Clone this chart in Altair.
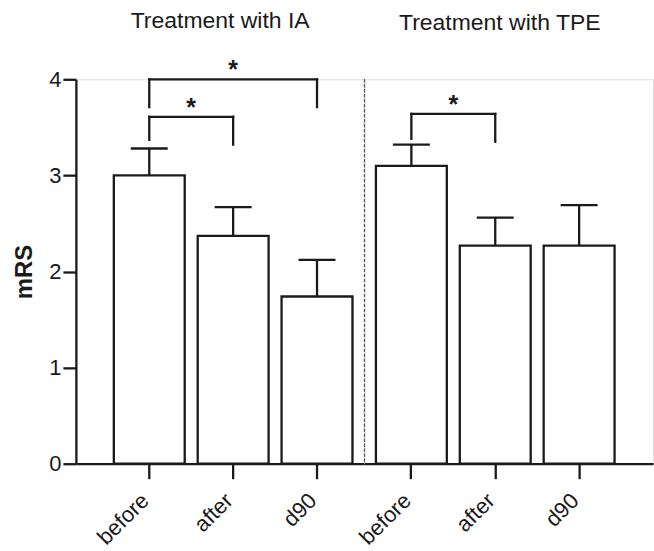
import altair as alt
import pandas as pd

# ---------------- data ----------------
timepoints = ["before", "after", "d90"]
group_titles = ["Treatment with IA", "Treatment with TPE"]

ia_mean = [3.00, 2.37, 1.74]
ia_upper = [3.28, 2.67, 2.12]
tpe_mean = [3.10, 2.27, 2.27]
tpe_upper = [3.32, 2.56, 2.69]

y_ticks = [0, 1, 2, 3, 4]

# significance brackets (start bar, end bar, top of bracket, foot at start, foot at end)
ia_br_start = ["before", "before"]
ia_br_end = ["d90", "after"]
ia_br_top = [4.00, 3.61]
ia_br_low_start = [3.71, 3.37]
ia_br_low_end = [3.71, 3.32]

tpe_br_start = ["before"]
tpe_br_end = ["after"]
tpe_br_top = [3.64]
tpe_br_low_start = [3.38]
tpe_br_low_end = [3.35]

# ---------------- style ----------------
FONT = "Liberation Sans"
INK = "#1a1a1a"
LW = 2.3
PANEL_W = 289
PANEL_H = 385
STEP = 84


def panel(title, means, uppers, b_start, b_end, b_top, b_ls, b_le,
          align, show_y, title_dx, title_offset, separator):
    df = pd.DataFrame({"t": timepoints, "mean": means, "upper": uppers})
    br = pd.DataFrame({"s": b_start, "e": b_end, "top": b_top,
                       "ls": b_ls, "le": b_le})

    xscale = alt.Scale(domain=timepoints, paddingInner=13 / 84,
                       paddingOuter=0.2976, align=align)
    yscale = alt.Scale(domain=[0, 4], nice=False, zero=True)

    xaxis = alt.Axis(title=None, labelAngle=-45, labelAlign="right",
                     labelBaseline="middle", labelFontSize=22, labelFont=FONT,
                     labelColor=INK, labelPadding=18, labelOffset=-4,
                     tickSize=15, tickWidth=LW,
                     tickColor=INK, domainColor=INK, domainWidth=LW,
                     grid=False)
    if show_y:
        yaxis = alt.Axis(values=y_ticks, format="d", title="mRS",
                         titleFont=FONT, titleFontSize=24,
                         titleFontWeight="bold", titleColor=INK,
                         titlePadding=12, labelFont=FONT, labelFontSize=22,
                         labelColor=INK, labelPadding=2, tickSize=13,
                         tickWidth=LW, tickColor=INK, domainColor=INK,
                         domainWidth=LW, grid=False)
    else:
        yaxis = None

    x = alt.X("t:N", scale=xscale, axis=xaxis, sort=timepoints)
    base = alt.Chart(df)

    bars = base.mark_bar(fill="white", stroke=INK, strokeWidth=LW).encode(
        x=x, y=alt.Y("mean:Q", scale=yscale, axis=yaxis))
    err = base.mark_rule(color=INK, strokeWidth=LW).encode(
        x=alt.X("t:N", sort=timepoints), y="mean:Q", y2="upper:Q")
    cap = base.mark_tick(color=INK, size=37, thickness=LW, opacity=1).encode(
        x=alt.X("t:N", sort=timepoints), y="upper:Q")

    bchart = alt.Chart(br)
    bh = bchart.mark_rule(color=INK, strokeWidth=LW, strokeCap="square").encode(
        x=alt.X("s:N", sort=timepoints), x2="e:N", y="top:Q")
    bl = bchart.mark_rule(color=INK, strokeWidth=LW, strokeCap="square").encode(
        x=alt.X("s:N", sort=timepoints), y="ls:Q", y2="top:Q")
    br_ = bchart.mark_rule(color=INK, strokeWidth=LW, strokeCap="square").encode(
        x=alt.X("e:N", sort=timepoints), y="le:Q", y2="top:Q")

    layers = [bars, err, cap, bh, bl, br_]

    for i in range(len(br)):
        one = br.iloc[[i]]
        span = timepoints.index(one["e"].iloc[0]) - timepoints.index(one["s"].iloc[0])
        star = alt.Chart(one).mark_text(
            text="*", font=FONT, fontSize=25, fontWeight="bold", color=INK,
            baseline="alphabetic", align="center", dx=STEP * span / 2, dy=-1
        ).encode(x=alt.X("s:N", sort=timepoints), y="top:Q")
        layers.append(star)

    if separator:
        sep = alt.Chart(df).mark_rule(color="#555555", strokeWidth=1,
                                       strokeDash=[3, 2]).encode(
            x=alt.value(0), y=alt.datum(4), y2=alt.datum(0))
        layers.append(sep)

    return alt.layer(*layers).properties(
        width=PANEL_W, height=PANEL_H,
        title=alt.TitleParams(title, font=FONT, fontSize=23,
                              fontWeight="normal", color=INK,
                              anchor="middle", dx=title_dx,
                              offset=title_offset))


p1 = panel(group_titles[0], ia_mean, ia_upper, ia_br_start, ia_br_end,
           ia_br_top, ia_br_low_start, ia_br_low_end,
           align=0.76, show_y=True, title_dx=0, title_offset=25,
           separator=False)
p2 = panel(group_titles[1], tpe_mean, tpe_upper, tpe_br_start, tpe_br_end,
           tpe_br_top, tpe_br_low_start, tpe_br_low_end,
           align=0.23, show_y=False, title_dx=-9, title_offset=44,
           separator=True)

chart = alt.hconcat(p1, p2, spacing=0, bounds="flush").properties(
    padding={"left": 12, "top": 9, "right": 0, "bottom": 0}
).configure_view(stroke=None).configure(background="white")

chart.save("out.html", embed_options={"renderer": "svg", "actions": False})
